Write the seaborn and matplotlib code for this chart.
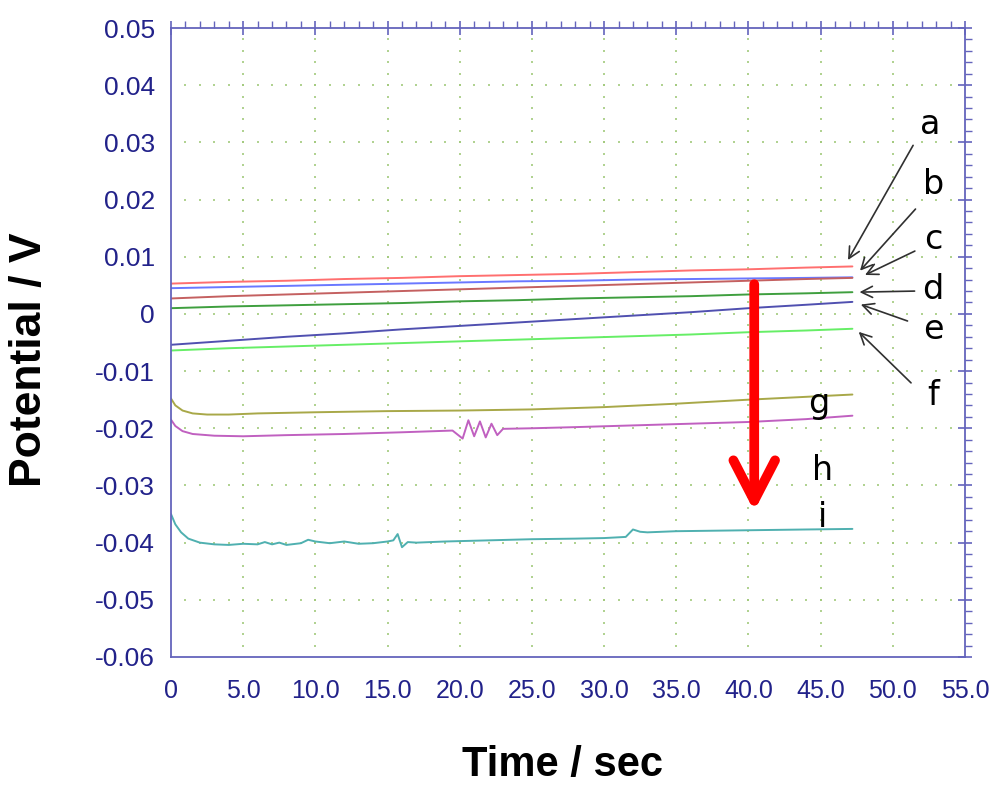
import numpy as np
import pandas as pd
import matplotlib
matplotlib.use("Agg")
import matplotlib.pyplot as plt
import seaborn as sns

# ---------------- data ----------------
t_af = [0, 4, 8, 12, 16, 20, 24, 28, 32, 36, 40, 44, 47.2]
pot_a = [0.0053, 0.0056, 0.0058, 0.0061, 0.0063, 0.0066, 0.0068, 0.0070, 0.0073, 0.0076, 0.0078, 0.0081, 0.0083]
pot_b = [0.0045, 0.0047, 0.0049, 0.0051, 0.0053, 0.0055, 0.0057, 0.0058, 0.0060, 0.0061, 0.0062, 0.0063, 0.0064]
pot_c = [0.0027, 0.0031, 0.0034, 0.0037, 0.0040, 0.0043, 0.0046, 0.0049, 0.0052, 0.0055, 0.0058, 0.0061, 0.0063]
pot_d = [0.0010, 0.0013, 0.0015, 0.0017, 0.0019, 0.0022, 0.0024, 0.0027, 0.0029, 0.0031, 0.0034, 0.0036, 0.0038]
pot_e = [-0.0054, -0.0047, -0.0040, -0.0034, -0.0027, -0.0021, -0.0015, -0.0009, -0.0003, 0.0003, 0.0010, 0.0016, 0.0021]
pot_f = [-0.0064, -0.0060, -0.0057, -0.0054, -0.0051, -0.0048, -0.0045, -0.0042, -0.0039, -0.0036, -0.0032, -0.0029, -0.0026]

t_g = [0, 0.3, 0.8, 1.5, 2.5, 4, 6, 10, 15, 20, 25, 30, 35, 40, 44, 47.2]
pot_g = [-0.0148, -0.0160, -0.0169, -0.0174, -0.0176, -0.0176, -0.0174, -0.0172, -0.0170, -0.0169,
         -0.0167, -0.0163, -0.0157, -0.0150, -0.0145, -0.0141]

t_h = [0, 0.3, 0.8, 1.5, 3, 5, 8, 12, 16, 19.5, 20.2, 20.6, 21.0, 21.4, 21.8, 22.2, 22.6, 23.0,
       25, 28, 32, 36, 40, 44, 47.2]
pot_h = [-0.0185, -0.0196, -0.0205, -0.0210, -0.0213, -0.0214, -0.0212, -0.0210, -0.0207, -0.0204,
         -0.0218, -0.0186, -0.0214, -0.0188, -0.0216, -0.0192, -0.0212, -0.0201,
         -0.0200, -0.0198, -0.0195, -0.0192, -0.0189, -0.0184, -0.0178]

t_i = [0, 0.3, 0.7, 1.2, 2, 3, 4, 5, 6, 6.5, 7, 7.5, 8, 9, 9.5, 10, 11, 12, 13, 14, 15, 15.4, 15.7,
       16.0, 16.4, 17, 19, 22, 25, 28, 30, 31.5, 32.0, 32.5, 33, 35, 38, 41, 44, 47.2]
pot_i = [-0.0350, -0.0368, -0.0382, -0.0393, -0.0400, -0.0403, -0.0404, -0.0402, -0.0403, -0.0399,
         -0.0403, -0.0400, -0.0404, -0.0401, -0.0395, -0.0398, -0.0401, -0.0398, -0.0402, -0.0401,
         -0.0398, -0.0396, -0.0385, -0.0408, -0.0399, -0.0400, -0.0398, -0.0396, -0.0394, -0.0393,
         -0.0392, -0.0390, -0.0377, -0.0381, -0.0382, -0.0380, -0.0379, -0.0378, -0.0377, -0.0376]

series = {
    "a": (t_af, pot_a), "b": (t_af, pot_b), "c": (t_af, pot_c), "d": (t_af, pot_d),
    "e": (t_af, pot_e), "f": (t_af, pot_f), "g": (t_g, pot_g), "h": (t_h, pot_h), "i": (t_i, pot_i),
}
colors = {"a": "#ff6f6f", "b": "#6a78ff", "c": "#c46060", "d": "#3f9f3f", "e": "#5050b0",
          "f": "#66ee66", "g": "#a8a848", "h": "#c060c0", "i": "#4fb0b0"}

# annotation letters (text position, arrow tail, arrow head) for a-f
arrow_labels = ["a", "b", "c", "d", "e", "f"]
label_pos = [(52.6, 0.0331), (52.8, 0.0226), (52.8, 0.0130), (52.8, 0.0042), (52.8, -0.0028), (52.8, -0.0142)]
arrow_tail = [(51.5, 0.0299), (51.7, 0.0187), (51.7, 0.0112), (51.7, 0.0040), (51.2, -0.0014), (51.4, -0.0124)]
arrow_head = [(46.8, 0.0090), (47.6, 0.0072), (47.9, 0.0066), (47.5, 0.0038), (47.6, 0.0018), (47.5, -0.0028)]
plain_labels = ["g", "h", "i"]
plain_pos = [(44.9, -0.0157), (45.1, -0.0273), (45.1, -0.0356)]

# ---------------- plot ----------------
sns.set_style("white")
plt.rcParams["font.family"] = ["Liberation Sans", "DejaVu Sans"]

W, H = 993, 785
fig = plt.figure(figsize=(W / 100, H / 100), dpi=100)
ax = fig.add_axes([171 / W, 1 - 657 / H, (965 - 171) / W, (657 - 28) / H])

rows = []
for name, (tt, vv) in series.items():
    for x, y in zip(tt, vv):
        rows.append((name, x, y))
df = pd.DataFrame(rows, columns=["curve", "time", "potential"])

for name in series:
    sub = df[df["curve"] == name]
    sns.lineplot(data=sub, x="time", y="potential", color=colors[name], lw=1.4,
                 estimator=None, sort=False, ax=ax, legend=False)

ax.set_xlim(0, 55)
ax.set_ylim(-0.06, 0.05)

# dotted grid made of little dots at minor-tick spacing
grid_col = "#a2c97c"
xmaj = np.arange(5, 55, 5)
ymaj = np.arange(-0.05, 0.05, 0.01)
xmin_ = np.arange(1, 55, 1)
ymin_ = np.arange(-0.058, 0.05, 0.002)
gx, gy = np.meshgrid(xmin_, ymaj)
ax.scatter(gx.ravel(), gy.ravel(), s=4, marker="|", color=grid_col, linewidths=1.2, zorder=0)
gx2, gy2 = np.meshgrid(xmaj, ymin_)
ax.scatter(gx2.ravel(), gy2.ravel(), s=4, marker="|", color=grid_col, linewidths=1.2, zorder=0)

# spines and ticks
spine_col = "#6464bc"
for s in ax.spines.values():
    s.set_color(spine_col)
    s.set_linewidth(1.3)

ax.set_xticks(np.arange(0, 55.1, 5))
ax.set_xticklabels(["0"] + [f"{v:.1f}" for v in np.arange(5, 55.1, 5)])
ax.set_yticks(np.round(np.arange(-0.06, 0.0501, 0.01), 2))
ax.set_yticklabels([("0" if abs(v) < 1e-9 else f"{v:.2f}") for v in np.arange(-0.06, 0.0501, 0.01)])
ax.set_xticks(np.arange(0, 55.1, 1), minor=True)
ax.set_yticks(np.arange(-0.06, 0.0501, 0.002), minor=True)

ax.tick_params(axis="both", which="major", direction="inout", length=10, width=1.2,
               color=spine_col, labelcolor="#22228a", top=True, right=True)
ax.tick_params(axis="both", which="minor", direction="out", length=5, width=1.0,
               color=spine_col, top=True, right=True)
ax.tick_params(axis="y", which="major", pad=6.5, labelsize=19)
ax.tick_params(axis="x", which="major", pad=11, labelsize=18)

ax.set_xlabel("")
ax.set_ylabel("")
fig.text(563 / W, 1 - 765 / H, "Time / sec", fontsize=30, fontweight="bold",
         ha="center", va="center", color="black")
fig.text(30 / W, 1 - 360 / H, "Potential / V", fontsize=32, fontweight="bold",
         ha="center", va="center", rotation=90, color="black")

# letters with arrows
for lab, p, tail, head in zip(arrow_labels, label_pos, arrow_tail, arrow_head):
    ax.text(p[0], p[1], lab, fontsize=24, ha="center", va="center", color="black",
            family=["DejaVu Sans"])
    ax.annotate("", xy=head, xytext=tail,
                arrowprops=dict(arrowstyle="->,head_length=0.8,head_width=0.4",
                                color="#303030", lw=1.2, mutation_scale=10))
for lab, p in zip(plain_labels, plain_pos):
    ax.text(p[0], p[1], lab, fontsize=24, ha="center", va="center", color="black",
            family=["DejaVu Sans"])

# big red arrow
ax.annotate("", xy=(40.4, -0.0345), xytext=(40.4, 0.0052),
            arrowprops=dict(arrowstyle="->,head_length=2.9,head_width=1.5",
                            color="#ff0000", lw=7, mutation_scale=10, shrinkA=0, shrinkB=0))

fig.savefig("out.png", dpi=100)
